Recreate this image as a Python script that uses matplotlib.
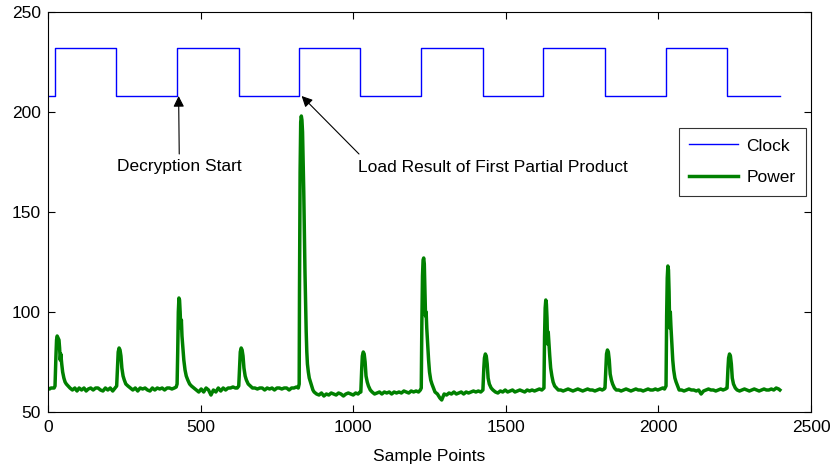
import matplotlib
matplotlib.use("Agg")
import matplotlib.pyplot as plt

# ---------------- data ----------------
clock_edges = [0, 23, 223, 422, 625, 824, 1023, 1222, 1424, 1623, 1825, 2025, 2225, 2398]
clock_levels = [208, 232, 208, 232, 208, 232, 208, 232, 208, 232, 208, 232, 208, 208]

power_x = [0, 5, 10, 15, 20,
           23, 26, 28, 30, 33, 36, 38, 40, 42, 45, 48, 52, 56, 60, 66, 72,
           80, 88, 95, 102, 110, 118, 125, 132, 140, 148, 156, 164, 172, 180, 188, 196, 204, 212, 220,
           225, 228, 230, 233, 236, 239, 242, 246, 250, 255, 262, 270,
           278, 286, 294, 302, 310, 318, 326, 334, 342, 350, 358, 366, 374, 382, 390, 398, 406, 414, 420,
           423, 425, 427, 429, 431, 433, 435, 437, 439, 442, 445, 449, 453, 458, 464, 470,
           478, 486, 494, 502, 510, 518, 526, 534, 542, 550, 558, 566, 574, 582, 590, 598, 606, 614, 620,
           625, 628, 630, 633, 636, 639, 642, 646, 650, 656, 663, 670,
           678, 686, 694, 702, 710, 718, 726, 734, 742, 750, 758, 766, 774, 782, 790, 798, 806, 814, 820,
           823, 824, 826, 828, 830, 832, 834, 836, 838, 840, 842, 844, 846, 848, 850, 853, 856, 860, 864, 868, 872,
           880, 888, 896, 904, 912, 920, 928, 936, 944, 952, 960, 968, 976, 984, 992, 1000, 1008, 1016, 1022,
           1025, 1028, 1030, 1033, 1036, 1039, 1042, 1046, 1050, 1056, 1062,
           1070, 1078, 1086, 1094, 1102, 1110, 1118, 1126, 1134, 1142, 1150, 1158, 1166, 1174, 1182, 1190, 1198, 1206, 1214, 1220,
           1223, 1225, 1227, 1229, 1231, 1233, 1235, 1237, 1239, 1241, 1244, 1247, 1250, 1254, 1258, 1263, 1268,
           1276, 1284, 1290, 1298, 1306, 1314, 1322, 1330, 1338, 1346, 1354, 1362, 1370, 1378, 1386, 1394, 1402, 1410, 1418,
           1425, 1428, 1430, 1433, 1436, 1439, 1442, 1446, 1452, 1458,
           1466, 1474, 1482, 1490, 1498, 1506, 1514, 1522, 1530, 1538, 1546, 1554, 1562, 1570, 1578, 1586, 1594, 1602, 1610, 1618,
           1625, 1627, 1629, 1631, 1633, 1635, 1637, 1639, 1641, 1644, 1647, 1651, 1655, 1660, 1666, 1672,
           1680, 1688, 1696, 1704, 1712, 1720, 1728, 1736, 1744, 1752, 1760, 1768, 1776, 1784, 1792, 1800, 1808, 1816, 1822,
           1825, 1828, 1830, 1833, 1836, 1839, 1842, 1846, 1850, 1856, 1862,
           1870, 1878, 1886, 1894, 1902, 1910, 1918, 1926, 1934, 1942, 1950, 1958, 1966, 1974, 1982, 1990, 1998, 2006, 2014, 2020,
           2025, 2027, 2029, 2031, 2033, 2035, 2037, 2039, 2041, 2044, 2047, 2050, 2054, 2058, 2063, 2068,
           2076, 2084, 2092, 2100, 2108, 2116, 2124, 2132, 2140, 2148, 2156, 2164, 2172, 2180, 2188, 2196, 2204, 2212, 2220,
           2225, 2228, 2230, 2233, 2236, 2239, 2242, 2246, 2252, 2258,
           2266, 2274, 2282, 2290, 2298, 2306, 2314, 2322, 2330, 2338, 2346, 2354, 2362, 2370, 2378, 2386, 2394, 2398]

power_y = [62, 61.5, 62, 62, 62,
           63, 78, 86, 88, 87, 86, 82, 76, 79, 74, 70, 67, 65, 64, 63, 62,
           61, 62, 60.5, 62, 61, 62, 60.5, 61.5, 62, 61, 62, 62, 61, 60.5, 62, 61, 62, 60.5, 62,
           63, 74, 80, 82, 81, 78, 72, 68, 66, 64, 63, 62,
           61, 62, 60.5, 62, 61.5, 62, 61, 60.5, 62, 61, 62, 61.5, 62, 61, 62, 62, 61.5, 62, 62.5,
           64, 80, 100, 107, 106, 100, 92, 96, 88, 82, 76, 71, 68, 66, 64, 63,
           62, 61, 60, 61.5, 60, 62, 61, 58.5, 61, 60, 62, 60.5, 62, 61, 62, 62, 62.5, 62, 62,
           63, 74, 80, 82, 81, 78, 72, 68, 66, 64, 63, 62,
           62, 61.5, 62, 62, 61, 62, 61.5, 62, 61, 62, 62, 61.5, 62, 62, 61, 62, 62, 62.5, 62,
           64, 110, 170, 195, 198, 196, 190, 175, 160, 140, 120, 105, 90, 80, 74, 70, 67, 65, 63, 61, 60,
           59, 58.5, 59.5, 58, 59, 58.5, 59.5, 59, 58.5, 59.5, 59, 58, 59, 59.5, 59, 58.5, 59.5, 59, 60,
           60, 72, 78, 80, 79, 75, 68, 65, 63, 61, 60,
           59, 59.5, 60, 59, 60, 59.5, 60, 59, 60, 59.5, 60, 59.5, 60.5, 60, 59.5, 60.5, 60, 60.5, 60, 61,
           62, 95, 118, 126, 127, 124, 112, 98, 100, 92, 84, 76, 70, 66, 64, 62, 60,
           59, 57, 56, 59, 58.5, 59.5, 59, 60, 59, 59.5, 60, 59, 60, 59.5, 60, 60.5, 60, 60.5, 60,
           61, 72, 77, 79, 78, 74, 67, 64, 62, 61,
           60, 59.5, 60.5, 60, 61, 60, 60.5, 61, 60, 60.5, 61, 60.5, 60, 61, 60.5, 61, 60.5, 61, 61.5, 61,
           62, 88, 102, 106, 104, 97, 84, 90, 85, 78, 72, 68, 65, 63, 62, 61,
           61, 60.5, 61, 61.5, 61, 60.5, 61, 61.5, 61, 60.5, 61, 61.5, 61, 61, 60.5, 61, 61.5, 61, 61.5,
           62, 73, 79, 81, 80, 76, 69, 66, 64, 62, 61,
           61, 60.5, 61, 61.5, 61, 60.5, 61, 61.5, 61, 61, 60.5, 61, 61.5, 61, 61, 61.5, 61, 61.5, 62, 61.5,
           63, 98, 117, 123, 121, 110, 92, 100, 93, 84, 76, 71, 67, 65, 63, 61,
           61, 60.5, 61, 61.5, 61, 61, 60.5, 61, 59, 60.5, 61, 61.5, 61, 61, 60.5, 61, 61.5, 61, 61.5,
           62, 72, 77, 79, 78, 74, 67, 64, 62, 61,
           60.5, 61, 61.5, 61, 60.5, 61, 61.5, 61, 60.5, 61, 61.5, 61, 61, 61.5, 61, 62, 61.5, 61]

x_ticks = [0, 500, 1000, 1500, 2000, 2500]
y_ticks = [50, 100, 150, 200, 250]
x_label = "Sample Points"
annot_texts = ["Decryption Start", "Load Result of First Partial Product"]
annot_targets = [(428, 208), (831, 208)]
annot_tails = [(430, 179), (1019, 179)]
annot_text_pos = [(430, 172.5), (1017, 172.5)]
legend_labels = ["Clock", "Power"]

# ---------------- plot ----------------
plt.rcParams['font.family'] = ['Liberation Sans', 'DejaVu Sans']
FS = 12.5
fig = plt.figure(figsize=(8.31, 4.68), dpi=100)
ax = fig.add_axes([48/831, 1-412/468, (811-48)/831, (412-12)/468])

l1, = ax.plot(clock_edges, clock_levels, color='#0000ff', lw=1.0, drawstyle='steps-post', label=legend_labels[0])
l2, = ax.plot(power_x, power_y, color='#008000', lw=2.5, label=legend_labels[1])

ax.set_xlim(0, 2500)
ax.set_ylim(50, 250)
ax.set_xticks(x_ticks)
ax.set_yticks(y_ticks)
ax.tick_params(direction='in', top=True, right=True, labelsize=FS, length=5, width=0.8)
ax.tick_params(axis='x', pad=6)
ax.tick_params(axis='y', pad=5)
for s in ax.spines.values():
    s.set_linewidth(0.8)
ax.set_xlabel(x_label, fontsize=FS, labelpad=10)

# arrows
for tgt, tail in zip(annot_targets, annot_tails):
    ax.annotate('', xy=tgt, xytext=tail,
                arrowprops=dict(arrowstyle='-|>', color='black', lw=0.8, mutation_scale=16,
                                shrinkA=0, shrinkB=0))
ax.text(annot_text_pos[0][0], annot_text_pos[0][1], annot_texts[0], fontsize=FS, ha='center', va='center')
ax.text(annot_text_pos[1][0], annot_text_pos[1][1], annot_texts[1], fontsize=FS, ha='left', va='center')

leg = ax.legend(loc='upper right', bbox_to_anchor=((806-48)/763, (412-128)/400), fontsize=FS, frameon=True,
                fancybox=False, edgecolor='black', handlelength=2.8, handletextpad=0.5,
                borderpad=0.6, labelspacing=0.95, borderaxespad=0)
leg.get_frame().set_linewidth(0.8)

fig.savefig("out.png", dpi=100)
